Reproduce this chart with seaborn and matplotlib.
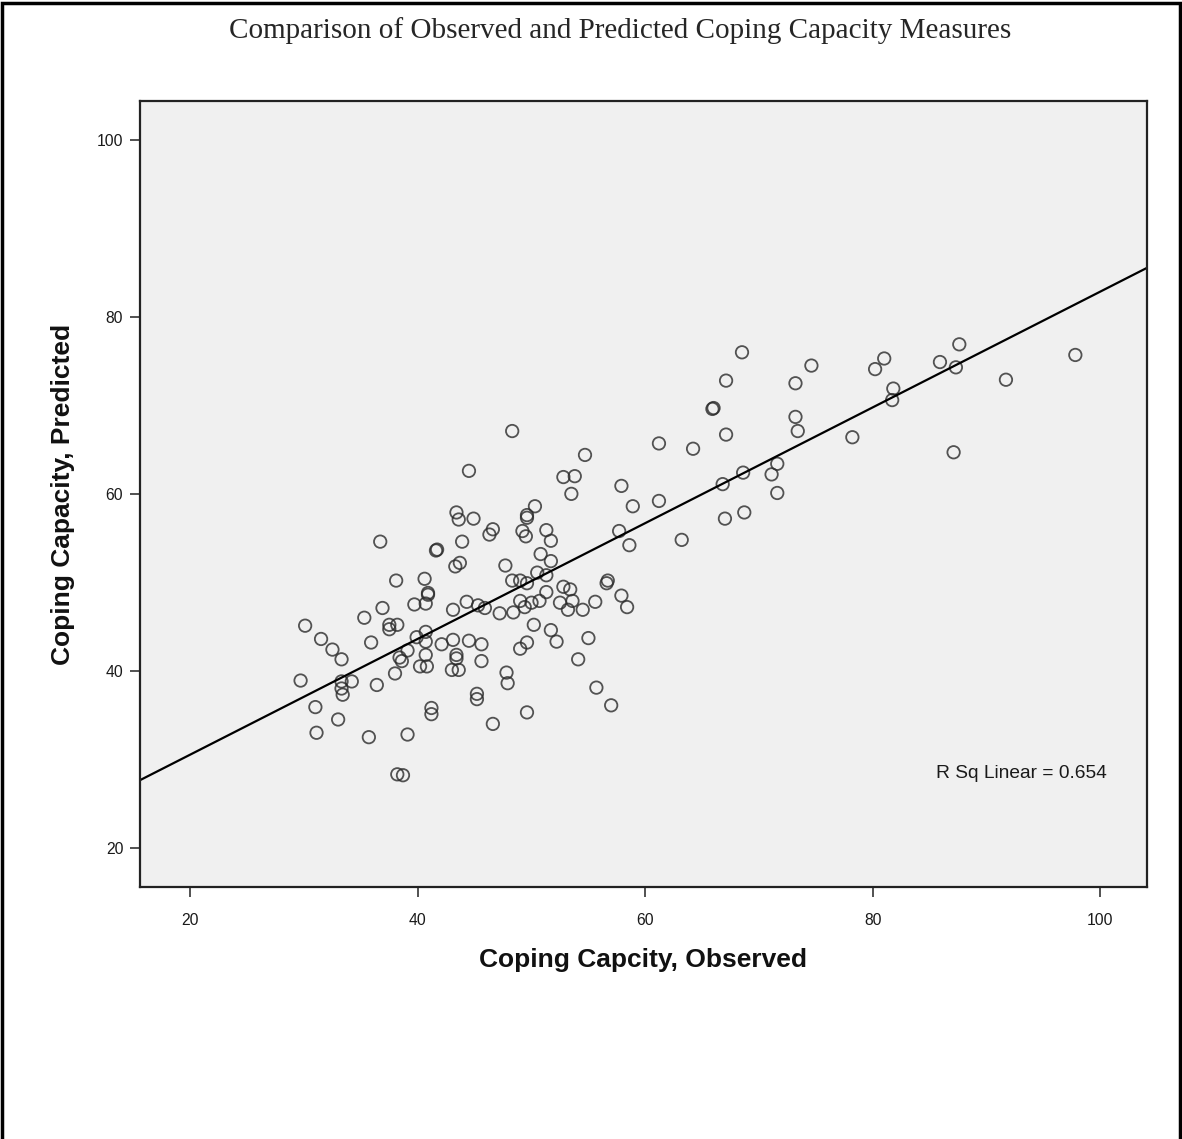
import matplotlib
matplotlib.use("Agg")
import matplotlib.pyplot as plt
import seaborn as sns
import pandas as pd
from matplotlib.patches import Rectangle

# Observed coping capacity (x) and predicted coping capacity (y)
observed = [
    44.5, 43.4, 43.6, 44.9, 36.7, 41.6, 41.7, 43.9, 43.7, 43.3,
    38.1, 40.6, 40.9, 40.9, 40.7, 39.7, 36.9, 35.3, 30.1, 31.5,
    32.5, 33.3, 35.9, 37.5, 37.5, 38.2, 39.9, 40.7, 40.7, 39.1,
    38.4, 38.6, 40.7, 40.2, 40.8, 42.1, 43.1, 43.1, 44.3, 45.3,
    45.9, 44.5, 45.6, 45.6, 43.4, 43.4, 43.0, 43.6, 38.0, 36.4,
    29.7, 33.3, 33.3, 33.4, 34.2, 31.0, 33.0, 31.1, 35.7, 39.1,
    41.2, 41.2, 45.2, 45.2, 46.6, 38.2, 38.7,
    48.3, 54.7, 61.2, 52.8, 53.8, 53.5, 57.9, 58.9, 61.2,
    50.3, 49.6, 49.6, 46.6, 46.3, 49.2, 49.5, 51.3, 51.7, 57.7,
    58.6, 63.2, 47.7, 50.8, 51.7, 50.5, 51.3, 48.3, 49.0, 49.6,
    56.6, 56.7,
    52.8, 53.4, 51.3, 57.9, 58.4, 55.6, 52.5, 53.2, 53.6, 54.5,
    49.0, 49.4, 50.0, 50.7, 47.2, 48.4, 50.2, 51.7, 52.2, 55.0,
    49.6, 49.0, 54.1, 47.8, 47.9, 55.7, 57.0, 49.6,
    68.5, 67.1, 65.9, 66.0, 67.1, 64.2, 74.6, 73.2, 73.2, 73.4,
    78.2, 81.0, 80.2, 81.8, 81.7, 85.9, 87.6, 87.3, 91.7, 97.8,
    87.1, 71.6, 71.1, 68.6, 66.8, 71.6, 68.7, 67.0,
]
predicted = [
    62.6, 57.9, 57.1, 57.2, 54.6, 53.6, 53.7, 54.6, 52.2, 51.8,
    50.2, 50.4, 48.8, 48.6, 47.6, 47.5, 47.1, 46.0, 45.1, 43.6,
    42.4, 41.3, 43.2, 45.2, 44.7, 45.2, 43.8, 44.4, 43.3, 42.3,
    41.5, 41.1, 41.8, 40.5, 40.5, 43.0, 43.5, 46.9, 47.8, 47.4,
    47.1, 43.4, 43.0, 41.1, 41.8, 41.4, 40.1, 40.1, 39.7, 38.4,
    38.9, 38.8, 38.0, 37.3, 38.8, 35.9, 34.5, 33.0, 32.5, 32.8,
    35.8, 35.1, 37.4, 36.8, 34.0, 28.3, 28.2,
    67.1, 64.4, 65.7, 61.9, 62.0, 60.0, 60.9, 58.6, 59.2,
    58.6, 57.6, 57.3, 56.0, 55.4, 55.8, 55.2, 55.9, 54.7, 55.8,
    54.2, 54.8, 51.9, 53.2, 52.4, 51.1, 50.8, 50.2, 50.2, 49.9,
    49.9, 50.2,
    49.5, 49.2, 48.9, 48.5, 47.2, 47.8, 47.7, 46.9, 47.9, 46.9,
    47.9, 47.2, 47.7, 47.9, 46.5, 46.6, 45.2, 44.6, 43.3, 43.7,
    43.2, 42.5, 41.3, 39.8, 38.6, 38.1, 36.1, 35.3,
    76.0, 72.8, 69.6, 69.7, 66.7, 65.1, 74.5, 72.5, 68.7, 67.1,
    66.4, 75.3, 74.1, 71.9, 70.6, 74.9, 76.9, 74.3, 72.9, 75.7,
    64.7, 63.4, 62.2, 62.4, 61.1, 60.1, 57.9, 57.2,
]
x_ticks = [20, 40, 60, 80, 100]
y_ticks = [20, 40, 60, 80, 100]

title = "Comparison of Observed and Predicted Coping Capacity Measures"
x_label = "Coping Capcity, Observed"
y_label = "Coping Capacity, Predicted"
r2_text = "R Sq Linear = 0.654"

df = pd.DataFrame({"Observed": observed, "Predicted": predicted})

sns.set_style("ticks")
plt.rcParams["font.family"] = ["Liberation Sans", "DejaVu Sans"]

fig = plt.figure(figsize=(11.82, 11.39), dpi=100)
fig.patch.set_facecolor("white")
ax = fig.add_axes([0.1184, 0.2212, 0.8520, 0.6901])
ax.set_facecolor("#f0f0f0")
ax.set_xlim(15.58, 104.1)
ax.set_ylim(15.56, 104.4)

sns.regplot(
    data=df, x="Observed", y="Predicted", ax=ax, ci=None, truncate=False,
    scatter_kws=dict(s=80, facecolors="none", edgecolors="#2a2a2a", linewidths=1.3),
    line_kws=dict(color="black", linewidth=1.6),
)
ax.set_xlim(15.58, 104.1)
ax.set_ylim(15.56, 104.4)

ax.set_xticks(x_ticks)
ax.set_yticks(y_ticks)
ax.tick_params(axis="both", direction="out", length=7, width=1.2, color="#333333",
               labelsize=11.3, labelcolor="#1a1a1a")
ax.tick_params(axis="x", pad=12)
ax.tick_params(axis="y", pad=5)
for s in ax.spines.values():
    s.set_linewidth(1.6)
    s.set_color("#222222")
    s.set_visible(True)

ax.set_xlabel(x_label, fontsize=19, fontweight="bold", labelpad=14, color="#111111")
ax.set_ylabel(y_label, fontsize=19, fontweight="bold", labelpad=16, color="#111111")

ax.text(0.875, 0.145, r2_text, transform=ax.transAxes, fontsize=13.8,
        ha="center", va="center", color="#1a1a1a")

fig.text(0.525, 0.973, title, ha="center", va="center", fontsize=21,
         family=["Liberation Serif", "DejaVu Serif"])

fig.add_artist(Rectangle((0.002, -0.01), 0.996, 1.0075, transform=fig.transFigure,
                         fill=False, edgecolor="black", linewidth=2.5))

fig.savefig("out.png", dpi=100)
